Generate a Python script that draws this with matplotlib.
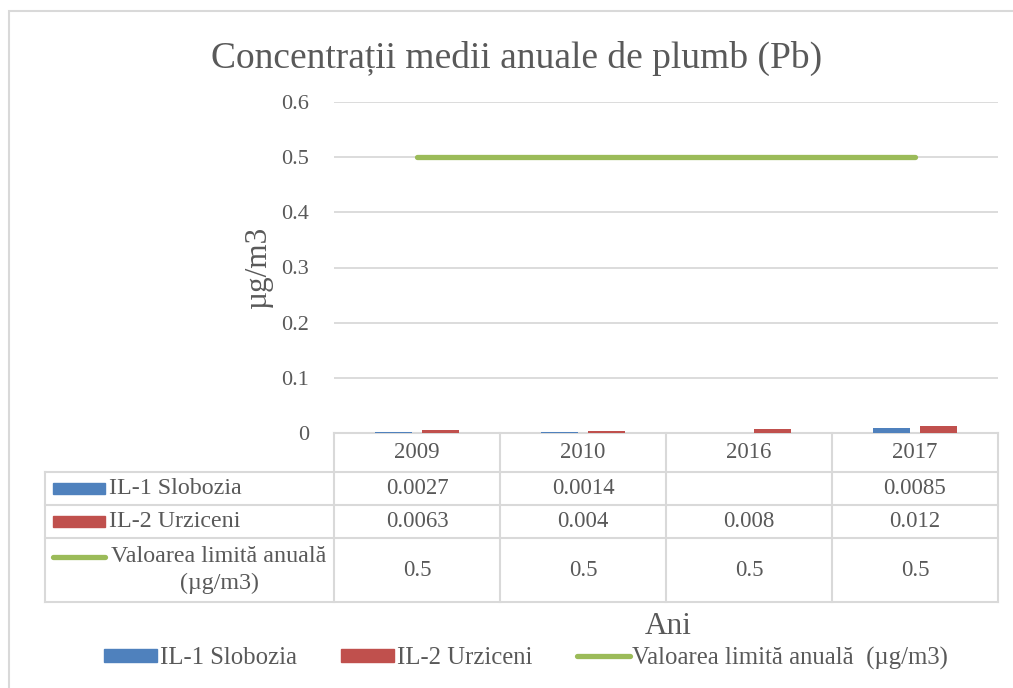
import numpy as np
import matplotlib.pyplot as plt
from matplotlib.lines import Line2D
from matplotlib.patches import Rectangle
from matplotlib.transforms import blended_transform_factory

plt.rcParams['font.family'] = ['Liberation Serif', 'DejaVu Serif']

# data
years = ["2009", "2010", "2016", "2017"]
slobozia = [0.0027, 0.0014, None, 0.0085]
urziceni = [0.0063, 0.004, 0.008, 0.012]
limita = [0.5, 0.5, 0.5, 0.5]
names = ["IL-1 Slobozia", "IL-2 Urziceni", "Valoarea limită anuală\n(µg/m3)"]
legend_names = ["IL-1 Slobozia", "IL-2 Urziceni", "Valoarea limită anuală  (µg/m3)"]
yticks = [0, 0.1, 0.2, 0.3, 0.4, 0.5, 0.6]

c_blue = "#4F81BD"
c_red = "#C0504D"
c_green = "#9BBB59"
c_text = "#595959"
c_grid = "#D9D9D9"

W, H = 1013, 688
fig = plt.figure(figsize=(W / 100, H / 100), dpi=100)


def fx(px):
    return px / W


def fy(px):
    return 1 - px / H


ax = fig.add_axes([fx(334), fy(433), fx(998) - fx(334), fy(102) - fy(433)])

x = np.arange(len(years))
s_vals = np.array([np.nan if v is None else v for v in slobozia])
bw = 0.223
ax.bar(x - 0.141, s_vals, bw, color=c_blue, zorder=3)
ax.bar(x + 0.141, urziceni, bw, color=c_red, zorder=3)
ax.plot(x, limita, color=c_green, lw=3.8, solid_capstyle="round", zorder=4)

ax.set_xlim(-0.5, len(years) - 0.5)
ax.set_ylim(0, 0.6)
ax.set_yticks(yticks)
ax.set_yticklabels([f"{v:g}" for v in yticks])
ax.tick_params(axis="y", length=0, pad=18, labelsize=16, labelcolor=c_text)
ax.set_xticks([])
ax.grid(axis="y", color=c_grid, lw=1.3, zorder=0)
for s in ["top", "right", "left"]:
    ax.spines[s].set_visible(False)
ax.spines["bottom"].set_color(c_grid)
ax.spines["bottom"].set_linewidth(1.5)

ax.set_ylabel("µg/m3", fontsize=22.5, color=c_text)
ax.yaxis.set_label_coords(-0.092, 0.5)

fig.text(fx(517), fy(58), "Concentrații medii anuale de plumb (Pb)",
         ha="center", va="center", fontsize=27, color=c_text)

# data table below the plot
tr = blended_transform_factory(ax.transData, fig.transFigure)
row_edges = [472, 505, 538, 602]
lw_t = 1.5
kw = dict(color=c_grid, lw=lw_t, clip_on=False)

# vertical lines between columns
for e in np.arange(len(years) + 1) - 0.5:
    fig.add_artist(Line2D([e, e], [fy(433), fy(602)], transform=tr, **kw))
# horizontal lines across label column and data
for r in row_edges:
    fig.add_artist(Line2D([fx(45), fx(998)], [fy(r), fy(r)],
                          transform=fig.transFigure, **kw))
fig.add_artist(Line2D([fx(45), fx(45)], [fy(472), fy(602)],
                      transform=fig.transFigure, **kw))

for i, yr in enumerate(years):
    fig.text(i, fy(453), yr, transform=tr, ha="center", va="center",
             fontsize=16.5, color=c_text)

row_centers = [488.5, 521.5, 570]
rows = [slobozia, urziceni, limita]
for rc, vals in zip(row_centers, rows):
    for i, v in enumerate(vals):
        if v is None:
            continue
        fig.text(i, fy(rc), f"{v:g}", transform=tr, ha="center", va="center",
                 fontsize=16.5, color=c_text)

# row labels with keys
for rc, col in zip(row_centers[:2], [c_blue, c_red]):
    fig.add_artist(Rectangle((fx(53), fy(rc + 5)), fx(105) - fx(53), 11 / H,
                             transform=fig.transFigure, color=col))
fig.add_artist(Line2D([fx(53), fx(105)], [fy(557), fy(557)], color=c_green,
                      lw=3.8, solid_capstyle="round",
                      transform=fig.transFigure))
fig.text(fx(109), fy(row_centers[0]), names[0], ha="left", va="center",
         fontsize=17.3, color=c_text)
fig.text(fx(109), fy(row_centers[1]), names[1], ha="left", va="center",
         fontsize=17.3, color=c_text)
fig.text(fx(219), fy(row_centers[2]), names[2], ha="center", va="center",
         fontsize=17.3, color=c_text, multialignment="center",
         linespacing=1.4)

fig.text(fx(668), fy(626), "Ani", ha="center", va="center", fontsize=22.5,
         color=c_text)

handles = [Rectangle((0, 0), 1, 1, color=c_blue),
           Rectangle((0, 0), 1, 1, color=c_red),
           Line2D([], [], color=c_green, lw=3.8, solid_capstyle="round")]
leg = fig.legend(handles, legend_names, loc="center", ncol=3,
                 bbox_to_anchor=(fx(526), fy(658)), frameon=False,
                 fontsize=17.8, handlelength=2.15, handleheight=0.45,
                 handletextpad=0.1, columnspacing=1.8, labelcolor=c_text)

# chart border
fig.add_artist(Rectangle((fx(8.5), -0.1), 1.2, fy(11) + 0.1, fill=False,
                         edgecolor=c_grid, lw=1.5,
                         transform=fig.transFigure))

fig.savefig("out.png", dpi=100)
